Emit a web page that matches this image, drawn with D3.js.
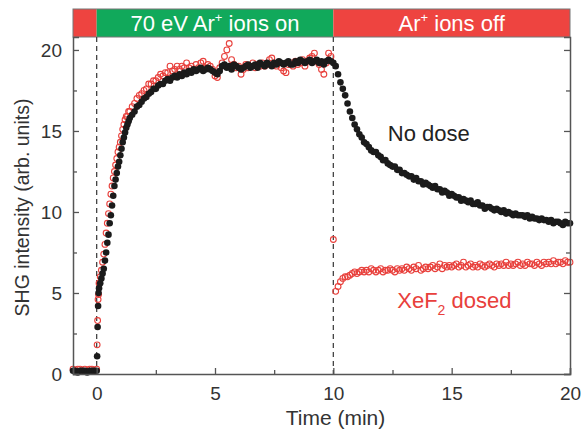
<!DOCTYPE html>
<html>
<head>
<meta charset="utf-8">
<script src="https://cdn.jsdelivr.net/npm/d3@7"></script>
<style>
  body { margin: 0; background: #fff; }
  svg text { font-family: "Liberation Sans", Arial, sans-serif; }
</style>
</head>
<body>
<div id="chart"></div>
<script>
// sample times (min)
const timePre = [-1.0,-0.9,-0.8,-0.7,-0.6,-0.5,-0.4,-0.3,-0.2,-0.1,0.0];
const timeOn = [0.02,0.04,0.06,0.08,0.1,
  0.15,0.2,0.25,0.3,0.35,0.4,0.45,0.5,0.55,0.6,0.65,0.7,0.75,0.8,0.85,0.9,0.95,1.0,1.05,1.1,1.15,1.2,1.25,1.3,1.35,1.4,
  1.5,1.6,1.7,1.8,1.9,
  2.0,2.1,2.2,2.3,2.4,2.5,2.6,2.7,2.8,2.9,
  3.0,3.1,3.2,3.3,3.4,3.5,3.6,3.7,3.8,3.9,
  4.0,4.1,4.2,4.3,4.4,4.5,4.6,4.7,4.8,4.9,
  5.0,5.1,5.2,5.3,5.4,5.5,5.6,5.7,5.8,5.9,
  6.0,6.1,6.2,6.3,6.4,6.5,6.6,6.7,6.8,6.9,
  7.0,7.1,7.2,7.3,7.4,7.5,7.6,7.7,7.8,7.9,
  8.0,8.1,8.2,8.3,8.4,8.5,8.6,8.7,8.8,8.9,
  9.0,9.1,9.2,9.3,9.4,9.5,9.6,9.7,9.8,9.9];
const timeOff = [10.0,10.1,10.2,10.3,10.4,10.5,10.6,10.7,10.8,10.9,
  11.0,11.1,11.2,11.3,11.4,11.5,11.6,11.7,11.8,11.9,
  12.0,12.1,12.2,12.3,12.4,12.5,12.6,12.7,12.8,12.9,
  13.0,13.1,13.2,13.3,13.4,13.5,13.6,13.7,13.8,13.9,
  14.0,14.1,14.2,14.3,14.4,14.5,14.6,14.7,14.8,14.9,
  15.0,15.1,15.2,15.3,15.4,15.5,15.6,15.7,15.8,15.9,
  16.0,16.1,16.2,16.3,16.4,16.5,16.6,16.7,16.8,16.9,
  17.0,17.1,17.2,17.3,17.4,17.5,17.6,17.7,17.8,17.9,
  18.0,18.1,18.2,18.3,18.4,18.5,18.6,18.7,18.8,18.9,
  19.0,19.1,19.2,19.3,19.4,19.5,19.6,19.7,19.8,19.9,
  20.0];

// "No dose" (black)
const noDosePre = [0.2,0.2,0.1,0.2,0.2,0.2,0.1,0.2,0.2,0.2,0.2];
const noDoseOn = [1.1,2.9,4.2,5.0,5.3,
  5.6,5.9,6.2,6.5,7.0,7.5,8.1,8.6,9.3,9.8,10.4,11.0,11.6,12.0,12.4,12.8,13.1,13.5,13.9,14.3,14.6,14.9,15.2,15.4,15.6,15.8,
  16.0,16.2,16.5,16.6,16.8,
  17.0,17.1,17.3,17.4,17.6,17.6,17.8,17.9,17.9,18.1,
  18.2,18.1,18.3,18.4,18.3,18.5,18.4,18.6,18.5,18.7,
  18.6,18.8,18.7,18.8,18.9,18.7,18.8,18.9,18.8,18.7,
  18.6,18.5,18.7,19.0,19.1,18.9,19.0,18.8,19.1,19.0,
  18.9,18.8,18.9,19.0,19.1,18.9,19.0,19.1,18.9,19.2,
  19.1,19.0,19.2,19.1,19.0,19.2,19.1,19.3,19.2,19.1,
  19.2,19.3,19.1,19.1,19.3,19.2,19.4,19.3,19.2,19.3,
  19.4,19.2,19.3,19.4,19.2,19.3,19.1,19.3,19.4,19.3];
const noDoseOff = [19.2,19.0,18.5,18.0,17.6,17.2,16.7,16.2,15.8,15.4,
  15.1,14.8,14.6,14.3,14.2,14.0,13.8,13.7,13.7,13.5,
  13.4,13.2,13.2,13.0,12.9,12.8,12.8,12.6,12.6,12.4,
  12.4,12.3,12.2,12.2,12.0,12.1,11.9,11.9,11.7,11.8,
  11.7,11.6,11.5,11.6,11.4,11.4,11.2,11.3,11.2,11.0,
  11.1,11.0,10.9,10.9,10.7,10.8,10.7,10.6,10.7,10.5,
  10.5,10.6,10.4,10.4,10.2,10.3,10.3,10.2,10.1,10.2,
  10.1,10.0,10.1,9.9,10.0,9.9,9.8,9.9,9.8,9.8,
  9.8,9.7,9.8,9.6,9.7,9.6,9.6,9.5,9.6,9.5,
  9.5,9.4,9.5,9.3,9.4,9.4,9.3,9.2,9.4,9.3,
  9.3];

// "XeF2 dosed" (red)
const dosedPre = [0.3,0.2,0.3,0.3,0.2,0.3,0.2,0.3,0.3,0.2,0.3];
const dosedOn = [1.8,3.3,4.6,4.9,5.6,
  6.0,6.4,6.9,7.4,8.0,8.7,9.3,9.9,10.5,11.1,11.6,12.1,12.5,12.9,13.3,13.7,14.0,14.3,14.7,15.1,15.4,15.7,15.9,15.9,16.2,16.2,
  16.5,16.7,17.0,17.2,17.3,
  17.5,17.6,17.9,17.9,18.1,18.1,18.3,18.5,18.4,18.6,
  18.6,19.0,18.7,18.8,19.0,18.8,19.0,18.9,19.2,18.9,
  19.0,18.8,19.1,18.9,19.2,19.3,18.9,19.1,19.0,18.8,
  18.4,18.3,18.9,19.2,19.6,20.0,20.4,19.4,19.1,18.9,
  19.0,18.5,18.8,19.1,18.9,19.0,19.2,18.9,19.1,19.0,
  19.2,19.0,19.1,19.4,19.5,19.1,19.0,19.2,18.9,18.7,
  18.6,19.1,19.2,19.0,19.3,19.1,19.2,19.4,19.0,19.3,
  19.5,19.6,19.8,19.3,19.1,18.8,18.5,19.2,19.8,19.6];
const dosedOff = [8.3,5.1,5.4,5.7,5.9,6.0,6.0,6.1,6.2,6.3,
  6.2,6.3,6.4,6.3,6.4,6.3,6.5,6.4,6.3,6.4,
  6.5,6.3,6.4,6.4,6.5,6.4,6.3,6.5,6.4,6.5,
  6.4,6.6,6.5,6.4,6.6,6.5,6.7,6.4,6.5,6.6,
  6.5,6.6,6.7,6.5,6.6,6.8,6.5,6.7,6.6,6.7,
  6.6,6.7,6.8,6.6,6.7,6.9,6.6,6.7,6.8,6.6,
  6.7,6.6,6.8,6.7,6.6,6.7,6.8,6.7,6.6,6.8,
  6.7,6.8,6.7,6.9,6.7,6.8,6.7,6.8,6.9,6.7,
  6.8,6.7,6.9,6.8,6.8,6.7,6.9,6.8,6.7,6.9,
  6.8,6.9,6.8,7.0,6.8,6.9,6.9,6.8,7.0,6.9,
  6.9];

// top band
const bandStart = [-1, 0, 10];
const bandEnd = [0, 10, 20];
const bandColor = ["#ee4440", "#11a95b", "#ee4440"];
const bandLabel = ["", "70 eV Ar|+| ions on", "Ar|+| ions off"];

const xTicks = [0, 5, 10, 15, 20];
const yTicks = [0, 5, 10, 15, 20];
const markerTimes = [0, 10];

const W = 583, H = 429;
const m = {top: 37, right: 13, bottom: 55, left: 73};
const bandTop = 9;

const svg = d3.select("#chart").append("svg")
    .attr("width", W)
    .attr("height", H);

const x = d3.scaleLinear().domain([-1, 20]).range([m.left, W - m.right]);
const y = d3.scaleLinear().domain([0, 20.8]).range([H - m.bottom, m.top]);

const axisColor = "#555";
const textColor = "#333";
const red = "#e8403c";

function zip(t, v) { return t.map((d, i) => [d, v[i]]); }
const noDose = zip(timePre, noDosePre).concat(zip(timeOn, noDoseOn), zip(timeOff, noDoseOff));
const dosed = zip(timePre, dosedPre).concat(zip(timeOn, dosedOn), zip(timeOff, dosedOff));

// band
const band = svg.append("g");
band.selectAll("rect")
    .data(bandStart)
    .enter().append("rect")
    .attr("x", (d) => x(d))
    .attr("y", bandTop)
    .attr("width", (d, i) => x(bandEnd[i]) - x(d))
    .attr("height", m.top - bandTop)
    .attr("fill", (d, i) => bandColor[i]);
band.append("rect")
    .attr("x", x(-1)).attr("y", bandTop)
    .attr("width", x(20) - x(-1)).attr("height", m.top - bandTop)
    .attr("fill", "none").attr("stroke", "#777").attr("stroke-width", 1);

bandStart.forEach((s, i) => {
    if (!bandLabel[i]) return;
    const parts = bandLabel[i].split("|");
    const t = band.append("text")
        .attr("x", (x(s) + x(bandEnd[i])) / 2)
        .attr("y", 31)
        .attr("text-anchor", "middle")
        .attr("fill", "#fff")
        .style("font-size", "22px");
    t.append("tspan").text(parts[0]);
    t.append("tspan").attr("dy", -9).style("font-size", "13px").text(parts[1]);
    t.append("tspan").attr("dy", 9).text(parts[2]);
});

// dashed lines at ions on / off
svg.selectAll(".marker")
    .data(markerTimes)
    .enter().append("line")
    .attr("class", "marker")
    .attr("x1", (d) => x(d)).attr("x2", (d) => x(d))
    .attr("y1", m.top).attr("y2", H - m.bottom)
    .attr("stroke", "#444")
    .attr("stroke-width", 1.3)
    .attr("stroke-dasharray", "5,4");

// data points
svg.append("g").selectAll("circle")
    .data(dosed)
    .enter().append("circle")
    .attr("cx", (d) => x(d[0]))
    .attr("cy", (d) => y(d[1]))
    .attr("r", 2.9)
    .attr("fill", "none")
    .attr("stroke", red)
    .attr("stroke-width", 1.1);

svg.append("g").selectAll("circle")
    .data(noDose)
    .enter().append("circle")
    .attr("cx", (d) => x(d[0]))
    .attr("cy", (d) => y(d[1]))
    .attr("r", 3.3)
    .attr("fill", "#1b1b1b");

// axes
function styleAxis(g) {
    g.select(".domain").attr("stroke", axisColor).attr("stroke-width", 1.5);
    g.selectAll(".tick line").attr("stroke", axisColor).attr("stroke-width", 1.3);
    g.selectAll(".tick text").attr("fill", textColor).style("font-size", "19px");
}
const tickVals = [0, 2.5, 5, 7.5, 10, 12.5, 15, 17.5, 20];

svg.append("g")
    .attr("transform", `translate(0,${H - m.bottom})`)
    .call(d3.axisBottom(x).tickValues(tickVals)
        .tickSize(-6).tickPadding(13)
        .tickFormat((d) => xTicks.includes(d) ? d : ""))
    .call(styleAxis)
    .call((g) => g.selectAll(".tick line").attr("y2", (d) => xTicks.includes(d) ? -6 : -4));

svg.append("g")
    .attr("transform", `translate(${m.left},0)`)
    .call(d3.axisLeft(y).tickValues(tickVals)
        .tickSize(-6).tickPadding(11)
        .tickFormat((d) => yTicks.includes(d) ? d : ""))
    .call(styleAxis)
    .call((g) => g.selectAll(".tick line").attr("x2", (d) => yTicks.includes(d) ? 6 : 4));

svg.append("g")
    .attr("transform", `translate(${W - m.right},0)`)
    .call(d3.axisRight(y).tickValues(tickVals)
        .tickSize(-6).tickFormat(""))
    .call(styleAxis)
    .call((g) => g.selectAll(".tick line").attr("x2", (d) => yTicks.includes(d) ? -6 : -4));

// titles
svg.append("text")
    .attr("x", (x(-1) + x(20)) / 2 + 14)
    .attr("y", 425)
    .attr("text-anchor", "middle")
    .attr("fill", textColor)
    .style("font-size", "21px")
    .text("Time (min)");

svg.append("text")
    .attr("transform", `translate(29,${(y(0) + y(20.8)) / 2 + 2}) rotate(-90)`)
    .attr("text-anchor", "middle")
    .attr("fill", textColor)
    .style("font-size", "19.5px")
    .text("SHG intensity (arb. units)");

// series labels
svg.append("text")
    .attr("x", x(12.3)).attr("y", y(14.4))
    .attr("fill", "#222")
    .style("font-size", "22px")
    .text("No dose");

const xe = svg.append("text")
    .attr("x", x(12.7)).attr("y", y(4.1))
    .attr("fill", red)
    .style("font-size", "22px");
xe.append("tspan").text("XeF");
xe.append("tspan").attr("dy", 7).style("font-size", "14px").text("2");
xe.append("tspan").attr("dy", -7).text(" dosed");
</script>
</body>
</html>
